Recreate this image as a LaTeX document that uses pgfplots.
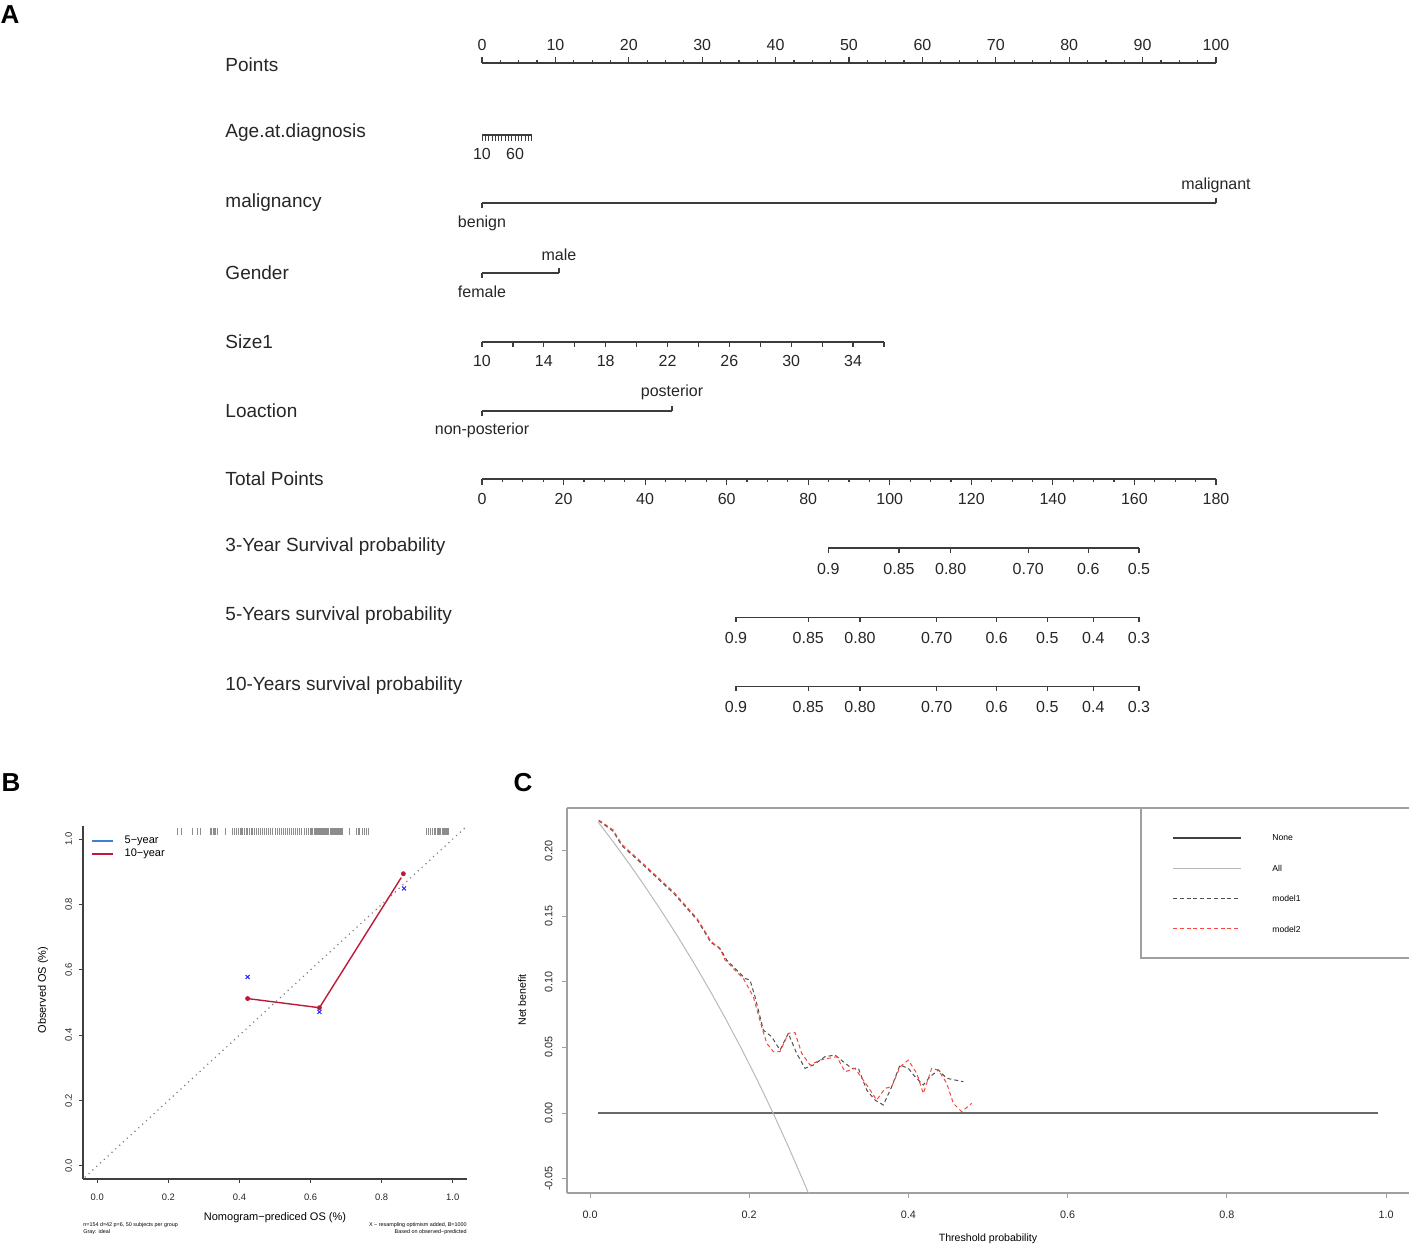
\documentclass[border=0pt]{standalone}
\usepackage{fontspec}
\setmainfont{Liberation Sans}
\usepackage{pgfplots}
\pgfplotsset{compat=1.18}

\definecolor{rowline}{RGB}{60,60,60}
\definecolor{legblue}{RGB}{60,130,210}
\definecolor{markblue}{RGB}{40,40,255}
\definecolor{calred}{RGB}{190,25,55}
\definecolor{framegray}{RGB}{160,160,160}
\definecolor{nonegray}{RGB}{105,105,105}
\definecolor{allgray}{RGB}{185,185,185}
\definecolor{mgray}{RGB}{80,80,80}
\definecolor{mred}{RGB}{250,70,60}

% font sizes (1 px of the reference = 0.5 pt)
\newcommand{\fR}{\fontsize{9.5}{11}\selectfont}
\newcommand{\fT}{\fontsize{8}{9.5}\selectfont}
\newcommand{\fBt}{\fontsize{4.7}{5.6}\selectfont}
\newcommand{\fBl}{\fontsize{5.5}{6.6}\selectfont}
\newcommand{\fN}{\fontsize{2.7}{3.5}\selectfont}
\newcommand{\fCt}{\fontsize{5.4}{6.4}\selectfont}
\newcommand{\fCl}{\fontsize{5.3}{6.3}\selectfont}
\newcommand{\fCg}{\fontsize{4.3}{5.2}\selectfont}
\newcommand{\fP}{\bfseries\fontsize{13}{15}\selectfont}

% nomogram helpers (x in total-points units, y in reference pixel rows)
\newcommand{\lab}[3]{\node[font=\fT, text=black!85, inner sep=0pt] at (axis cs:#1,#2) {#3};}
\newcommand{\rowname}[2]{\node[font=\fR, text=black!85, anchor=west, inner sep=0pt] at (axis cs:-63,#1) {#2};}

\pgfplotsset{
  nrow/.style={rowline, line width=0.6pt},
  tup/.style={only marks, rowline, line width=0.6pt, mark=|, mark size=#1, mark options={yshift=#1}},
  tdn/.style={only marks, rowline, line width=0.6pt, mark=|, mark size=#1, mark options={yshift=-#1}},
}

\begin{document}
\begin{tikzpicture}
\useasboundingbox (0,0) rectangle (705pt,623pt);

% ---------------- A: nomogram ----------------
\begin{axis}[
  at={(241pt,623pt)}, anchor=north west,
  scale only axis, width=367pt, height=370pt,
  xmin=0, xmax=180, ymin=0, ymax=740, y dir=reverse,
  hide axis, clip=false]

% Points
\addplot[nrow] coordinates {(0,63)(180,63)};
\addplot[tup=1.5pt] coordinates {(0,63)(18,63)(36,63)(54,63)(72,63)(90,63)(108,63)(126,63)(144,63)(162,63)(180,63)};
\addplot[tup=0.75pt] coordinates {(4.5,63)(9,63)(13.5,63)(22.5,63)(27,63)(31.5,63)(40.5,63)(45,63)(49.5,63)(58.5,63)(63,63)(67.5,63)(76.5,63)(81,63)(85.5,63)(94.5,63)(99,63)(103.5,63)(112.5,63)(117,63)(121.5,63)(130.5,63)(135,63)(139.5,63)(148.5,63)(153,63)(157.5,63)(166.5,63)(171,63)(175.5,63)};
\lab{0}{45}{0}\lab{18}{45}{10}\lab{36}{45}{20}\lab{54}{45}{30}\lab{72}{45}{40}\lab{90}{45}{50}
\lab{108}{45}{60}\lab{126}{45}{70}\lab{144}{45}{80}\lab{162}{45}{90}\lab{180}{45}{100}

% Age.at.diagnosis
\addplot[nrow] coordinates {(0,135)(12.15,135)};
\addplot[tdn=1.5pt, line width=0.4pt] coordinates {(0,135)(0.81,135)(1.62,135)(2.43,135)(3.24,135)(4.05,135)(4.86,135)(5.67,135)(6.48,135)(7.29,135)(8.10,135)(8.91,135)(9.72,135)(10.53,135)(11.34,135)(12.15,135)};
\lab{0}{154}{10}\lab{8.10}{154}{60}

% malignancy
\addplot[nrow] coordinates {(0,203)(180,203)};
\addplot[tdn=1.25pt] coordinates {(0,203)};
\addplot[tup=1.25pt] coordinates {(180,203)};
\lab{0}{223}{benign}\lab{180}{185}{malignant}

% Gender
\addplot[nrow] coordinates {(0,273)(18.88,273)};
\addplot[tdn=1.25pt] coordinates {(0,273)};
\addplot[tup=1.25pt] coordinates {(18.88,273)};
\lab{0}{292}{female}\lab{18.88}{255}{male}

% Size1
\addplot[nrow] coordinates {(0,342)(98.58,342)};
\addplot[tdn=1.25pt] coordinates {(0,342)(7.583,342)(15.166,342)(22.749,342)(30.332,342)(37.915,342)(45.498,342)(53.081,342)(60.664,342)(68.247,342)(75.83,342)(83.413,342)(90.996,342)(98.58,342)};
\lab{0}{361}{10}\lab{15.166}{361}{14}\lab{30.332}{361}{18}\lab{45.498}{361}{22}
\lab{60.664}{361}{26}\lab{75.83}{361}{30}\lab{90.996}{361}{34}

% Loaction
\addplot[nrow] coordinates {(0,411)(46.6,411)};
\addplot[tdn=1.25pt] coordinates {(0,411)};
\addplot[tup=1.25pt] coordinates {(46.6,411)};
\lab{0}{430}{non-posterior}\lab{46.6}{392}{posterior}

% Total Points
\addplot[nrow] coordinates {(0,479)(180,479)};
\addplot[tdn=1.5pt] coordinates {(0,479)(20,479)(40,479)(60,479)(80,479)(100,479)(120,479)(140,479)(160,479)(180,479)};
\addplot[tdn=0.75pt] coordinates {(5,479)(10,479)(15,479)(25,479)(30,479)(35,479)(45,479)(50,479)(55,479)(65,479)(70,479)(75,479)(85,479)(90,479)(95,479)(105,479)(110,479)(115,479)(125,479)(130,479)(135,479)(145,479)(150,479)(155,479)(165,479)(170,479)(175,479)};
\lab{0}{499}{0}\lab{20}{499}{20}\lab{40}{499}{40}\lab{60}{499}{60}\lab{80}{499}{80}
\lab{100}{499}{100}\lab{120}{499}{120}\lab{140}{499}{140}\lab{160}{499}{160}\lab{180}{499}{180}

% 3-Year Survival probability
\addplot[nrow] coordinates {(84.92,548)(161.12,548)};
\addplot[tdn=1.25pt] coordinates {(84.92,548)(102.26,548)(114.94,548)(133.97,548)(148.68,548)(161.12,548)};
\lab{84.92}{569}{0.9}\lab{102.26}{569}{0.85}\lab{114.94}{569}{0.80}
\lab{133.97}{569}{0.70}\lab{148.68}{569}{0.6}\lab{161.12}{569}{0.5}

% 5-Years survival probability
\addplot[nrow] coordinates {(62.29,617.5)(161.12,617.5)};
\addplot[tdn=1.25pt] coordinates {(62.29,617.5)(80.02,617.5)(92.70,617.5)(111.51,617.5)(126.22,617.5)(138.63,617.5)(149.91,617.5)(161.12,617.5)};
\lab{62.29}{638}{0.9}\lab{80.02}{638}{0.85}\lab{92.70}{638}{0.80}\lab{111.51}{638}{0.70}
\lab{126.22}{638}{0.6}\lab{138.63}{638}{0.5}\lab{149.91}{638}{0.4}\lab{161.12}{638}{0.3}

% 10-Years survival probability
\addplot[nrow] coordinates {(62.29,686.5)(161.12,686.5)};
\addplot[tdn=1.25pt] coordinates {(62.29,686.5)(80.02,686.5)(92.70,686.5)(111.51,686.5)(126.22,686.5)(138.63,686.5)(149.91,686.5)(161.12,686.5)};
\lab{62.29}{707}{0.9}\lab{80.02}{707}{0.85}\lab{92.70}{707}{0.80}\lab{111.51}{707}{0.70}
\lab{126.22}{707}{0.6}\lab{138.63}{707}{0.5}\lab{149.91}{707}{0.4}\lab{161.12}{707}{0.3}

\rowname{65}{Points}
\rowname{133}{Age.at.diagnosis}
\rowname{203}{malignancy}
\rowname{273}{Gender}
\rowname{342}{Size1}
\rowname{411}{Loaction}
\rowname{479}{Total Points}
\rowname{547}{3-Year Survival probability}
\rowname{616}{5-Years survival probability}
\rowname{686}{10-Years survival probability}
\end{axis}

% ---------------- B: calibration ----------------
\begin{axis}[
  at={(41.5pt,33.5pt)}, anchor=south west,
  scale only axis, width=192pt, height=176.5pt,
  xmin=-0.04, xmax=1.04, ymin=-0.04, ymax=1.04,
  axis x line*=bottom, axis y line*=left,
  axis line style={line width=0.6pt, black!75},
  xtick={0,0.2,0.4,0.6,0.8,1}, ytick={0,0.2,0.4,0.6,0.8,1},
  tick align=outside, major tick length=2pt,
  tick style={black!75, line width=0.5pt},
  tick label style={font=\fBt, black!85,
    /pgf/number format/fixed, /pgf/number format/fixed zerofill,
    /pgf/number format/precision=1},
  yticklabel style={rotate=90, anchor=south},
  xticklabel shift=2pt,
  /pgf/number format/assume math mode=true,
  clip=false]
\addplot[gray, dotted, line width=0.6pt] coordinates {(-0.035,-0.035)(1.04,1.04)};
\addplot[black!45, only marks, mark=|, mark size=1.75pt, line width=0.25pt] coordinates {
(0.225,1.023)(0.237,1.023)(0.268,1.023)(0.282,1.023)(0.290,1.023)(0.318,1.023)(0.322,1.023)
(0.326,1.023)(0.330,1.023)(0.333,1.023)(0.337,1.023)(0.361,1.023)(0.380,1.023)(0.386,1.023)
(0.392,1.023)(0.398,1.023)(0.401,1.023)(0.405,1.023)(0.409,1.023)(0.414,1.023)(0.418,1.023)
(0.422,1.023)(0.428,1.023)(0.433,1.023)(0.437,1.023)(0.441,1.023)(0.446,1.023)(0.452,1.023)
(0.458,1.023)(0.463,1.023)(0.470,1.023)(0.476,1.023)(0.481,1.023)(0.487,1.023)(0.493,1.023)
(0.500,1.023)(0.506,1.023)(0.511,1.023)(0.517,1.023)(0.522,1.023)(0.528,1.023)(0.534,1.023)
(0.540,1.023)(0.546,1.023)(0.552,1.023)(0.557,1.023)(0.563,1.023)(0.569,1.023)(0.575,1.023)
(0.581,1.023)(0.587,1.023)(0.593,1.023)(0.598,1.023)(0.603,1.023)(0.606,1.023)(0.609,1.023)
(0.612,1.023)(0.615,1.023)(0.618,1.023)(0.621,1.023)(0.624,1.023)(0.627,1.023)(0.630,1.023)
(0.633,1.023)(0.636,1.023)(0.639,1.023)(0.642,1.023)(0.645,1.023)(0.648,1.023)(0.651,1.023)
(0.654,1.023)(0.657,1.023)(0.660,1.023)(0.663,1.023)(0.666,1.023)(0.669,1.023)(0.672,1.023)
(0.675,1.023)(0.678,1.023)(0.681,1.023)(0.684,1.023)(0.687,1.023)(0.690,1.023)(0.708,1.023)
(0.728,1.023)(0.733,1.023)(0.738,1.023)(0.744,1.023)(0.750,1.023)(0.756,1.023)(0.762,1.023)
(0.925,1.023)(0.931,1.023)(0.937,1.023)(0.942,1.023)(0.948,1.023)(0.952,1.023)(0.956,1.023)
(0.960,1.023)(0.963,1.023)(0.966,1.023)(0.969,1.023)(0.972,1.023)(0.975,1.023)(0.978,1.023)
(0.981,1.023)(0.984,1.023)(0.986,1.023)};
\addplot[calred, line width=0.7pt] coordinates {(0.423,0.512)(0.625,0.484)(0.855,0.882)};
\addplot[calred, only marks, mark=*, mark size=1pt] coordinates {(0.423,0.512)(0.625,0.484)(0.861,0.894)};
\addplot[markblue, only marks, mark=x, mark size=1.4pt, line width=0.5pt] coordinates {(0.423,0.578)(0.625,0.471)(0.863,0.849)};
% legend
\draw[legblue, line width=0.7pt] (axis cs:-0.014,0.994) -- (axis cs:0.045,0.994);
\draw[calred, line width=0.7pt] (axis cs:-0.014,0.954) -- (axis cs:0.045,0.954);
\node[font=\fBl, anchor=west, inner sep=0pt] at (axis cs:0.076,0.994) {5−year};
\node[font=\fBl, anchor=west, inner sep=0pt] at (axis cs:0.076,0.954) {10−year};
\end{axis}
\node[font=\fBl] at (137.5pt,14pt) {Nomogram−prediced OS (\%)};
\node[font=\fBl, rotate=90] at (21.5pt,128pt) {Observed OS (\%)};
\node[font=\fN, anchor=west, inner sep=0pt] at (41.5pt,10.5pt) {n=154 d=42 p=6, 50 subjects per group};
\node[font=\fN, anchor=west, inner sep=0pt] at (41.5pt,7pt) {Gray: ideal};
\node[font=\fN, anchor=east, inner sep=0pt] at (233.5pt,10.5pt) {X − resampling optimism added, B=1000};
\node[font=\fN, anchor=east, inner sep=0pt] at (233.5pt,7pt) {Based on observed−predicted};

% ---------------- C: decision curve ----------------
\begin{axis}[
  at={(283.5pt,26.5pt)}, anchor=south west,
  scale only axis, width=421.15pt, height=192.5pt,
  xmin=-0.0289, xmax=1.0292, ymin=-0.061, ymax=0.2327,
  axis x line*=bottom, axis y line*=left,
  axis line style={framegray, line width=0.8pt},
  xtick={0,0.2,0.4,0.6,0.8,1}, ytick={-0.05,0,0.05,0.1,0.15,0.2},
  tick align=outside, major tick length=2.5pt,
  tick style={framegray, line width=0.5pt},
  xticklabel style={font=\fCt, black!85,
    /pgf/number format/fixed, /pgf/number format/fixed zerofill,
    /pgf/number format/precision=1},
  yticklabel style={font=\fCt, black!85, rotate=90, anchor=south,
    /pgf/number format/fixed, /pgf/number format/fixed zerofill,
    /pgf/number format/precision=2},
  xticklabel shift=3pt, yticklabel shift=1.2pt,
  /pgf/number format/assume math mode=true,
  clip mode=individual]
\draw[framegray, line width=1.1pt] (rel axis cs:0,1) -- (rel axis cs:1,1);
% None
\addplot[nonegray, line width=1.3pt] coordinates {(0.01,0)(0.99,0)};
% All
\addplot[allgray, line width=0.5pt] coordinates {
(0.01,0.2222)(0.03,0.2062)(0.05,0.1895)(0.07,0.1720)(0.09,0.1538)(0.11,0.1348)
(0.13,0.1149)(0.15,0.0941)(0.17,0.0723)(0.19,0.0494)(0.21,0.0253)(0.23,0.0000)
(0.25,-0.0267)(0.27,-0.0548)(0.28,-0.0694)};
% model1
\addplot[mgray, line width=0.5pt, dash pattern=on 2pt off 1.5pt] coordinates {
(0.011,0.2230)(0.029,0.215)(0.040,0.204)(0.069,0.188)(0.106,0.167)(0.135,0.147)
(0.152,0.130)(0.160,0.127)(0.165,0.124)(0.1717,0.1167)(0.1947,0.1027)(0.201,0.1014)
(0.2073,0.0887)(0.2177,0.0633)(0.2282,0.0582)(0.2387,0.048)(0.2491,0.0608)(0.2596,0.0455)
(0.2701,0.0341)(0.2806,0.0366)(0.2952,0.043)(0.3078,0.0442)(0.3182,0.0391)(0.3287,0.0341)
(0.3371,0.0341)(0.3476,0.0175)(0.358,0.0099)(0.3685,0.0061)(0.379,0.0201)(0.3894,0.0366)
(0.3999,0.0341)(0.4083,0.0277)(0.4187,0.0214)(0.4271,0.0277)(0.4376,0.0328)(0.4481,0.0265)
(0.469,0.0239)};
% model2
\addplot[mred, line width=0.5pt, dash pattern=on 2pt off 1.5pt] coordinates {
(0.011,0.2235)(0.029,0.216)(0.040,0.205)(0.069,0.189)(0.106,0.168)(0.135,0.148)
(0.152,0.131)(0.158,0.128)(0.163,0.126)(0.1696,0.1167)(0.1926,0.1027)(0.2052,0.0887)
(0.2157,0.0658)(0.222,0.0532)(0.2303,0.0468)(0.2387,0.0468)(0.2491,0.0608)(0.2575,0.0613)
(0.266,0.0455)(0.2764,0.0366)(0.2889,0.0404)(0.2994,0.0417)(0.3099,0.043)(0.3204,0.0315)
(0.3329,0.0341)(0.3476,0.0214)(0.3601,0.0099)(0.3706,0.0188)(0.379,0.0201)(0.3894,0.0353)
(0.3999,0.0404)(0.4104,0.0303)(0.4187,0.015)(0.4292,0.0341)(0.4376,0.0328)(0.4481,0.0227)
(0.4564,0.0074)(0.4669,0.001)(0.4795,0.0074)};
% legend
\draw[framegray, line width=0.6pt] (axis cs:0.6922,0.2327) -- (axis cs:0.6922,0.1182) -- (axis cs:1.0292,0.1182);
\draw[black!75, line width=0.6pt] (axis cs:0.7324,0.2098) -- (axis cs:0.8178,0.2098);
\draw[allgray, line width=0.45pt] (axis cs:0.7324,0.1869) -- (axis cs:0.8178,0.1869);
\draw[mgray, line width=0.5pt, dash pattern=on 2pt off 1.4pt] (axis cs:0.7324,0.1640) -- (axis cs:0.8178,0.1640);
\draw[mred, line width=0.5pt, dash pattern=on 2pt off 1.4pt] (axis cs:0.7324,0.1404) -- (axis cs:0.8178,0.1404);
\node[font=\fCg, anchor=west, inner sep=0pt] at (axis cs:0.8568,0.2098) {None};
\node[font=\fCg, anchor=west, inner sep=0pt] at (axis cs:0.8568,0.1869) {All};
\node[font=\fCg, anchor=west, inner sep=0pt] at (axis cs:0.8568,0.1640) {model1};
\node[font=\fCg, anchor=west, inner sep=0pt] at (axis cs:0.8568,0.1404) {model2};
\end{axis}
\node[font=\fCl] at (494pt,3.5pt) {Threshold probability};
\node[font=\fCl, rotate=90] at (261pt,123pt) {Net benefit};

% panel letters
\node[font=\fP] at (5pt,615.5pt) {A};
\node[font=\fP] at (5.5pt,231.5pt) {B};
\node[font=\fP] at (261.5pt,231.5pt) {C};
\end{tikzpicture}
\end{document}
